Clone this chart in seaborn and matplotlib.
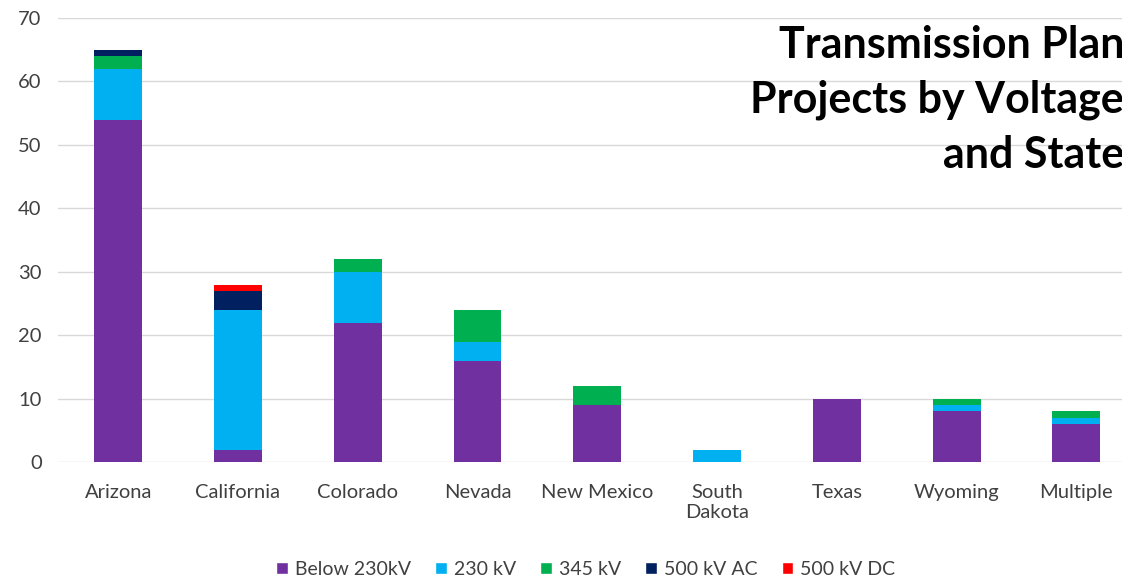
import numpy as np
import pandas as pd
import seaborn as sns
import matplotlib.pyplot as plt
from matplotlib.patches import Patch

states = ["Arizona", "California", "Colorado", "Nevada", "New Mexico",
          "South\nDakota", "Texas", "Wyoming", "Multiple"]
below_230 = [54, 2, 22, 16, 9, 0, 10, 8, 6]
kv_230 = [8, 22, 8, 3, 0, 2, 0, 1, 1]
kv_345 = [2, 0, 2, 5, 3, 0, 0, 1, 1]
kv_500_ac = [1, 3, 0, 0, 0, 0, 0, 0, 0]
kv_500_dc = [0, 1, 0, 0, 0, 0, 0, 0, 0]

series = {
    "Below 230kV": below_230,
    "230 kV": kv_230,
    "345 kV": kv_345,
    "500 kV AC": kv_500_ac,
    "500 kV DC": kv_500_dc,
}
colors = ["#7030a0", "#00b0f0", "#00b050", "#002060", "#ff0000"]

sns.set_theme(style="white")
plt.rcParams["font.family"] = ["Lato", "DejaVu Sans"]

fig = plt.figure(figsize=(11.22, 5.8), dpi=100)
ax = fig.add_axes([0.052, 0.203, 0.95, 0.766])

# stack the voltage classes one on top of the other
bottom = np.zeros(len(states))
for (name, vals), col in zip(series.items(), colors):
    df = pd.DataFrame({"state": states, "value": vals})
    sns.barplot(data=df, x="state", y="value", bottom=bottom, color=col,
                width=0.4, ax=ax, saturation=1, linewidth=0)
    bottom += np.array(vals)

ax.set_ylim(0, 70)
ax.set_xlim(-0.5, 8.4)
ax.set_yticks(range(0, 71, 10))
ax.yaxis.grid(True, color="#d9d9d9", linewidth=1)
ax.set_axisbelow(True)
for s in ax.spines.values():
    s.set_visible(False)
ax.set_xlabel("")
ax.set_ylabel("")
ax.tick_params(axis="both", labelsize=14.5, colors="#404040", length=0)
ax.tick_params(axis="x", pad=16)
ax.tick_params(axis="y", pad=12)

ax.text(1.0, 0.985, "Transmission Plan\nProjects by Voltage\nand State",
        transform=ax.transAxes, ha="right", va="top", fontsize=31,
        fontweight="bold", color="black", linespacing=1.45)

handles = [Patch(facecolor=c, label=n) for n, c in zip(series, colors)]
fig.legend(handles=handles, loc="lower center", ncol=5, frameon=False,
           fontsize=14, bbox_to_anchor=(0.522, -0.027), handlelength=0.6,
           handleheight=0.6, columnspacing=1.25, handletextpad=0.35,
           labelcolor="#404040")

fig.savefig("out.png", dpi=100)
